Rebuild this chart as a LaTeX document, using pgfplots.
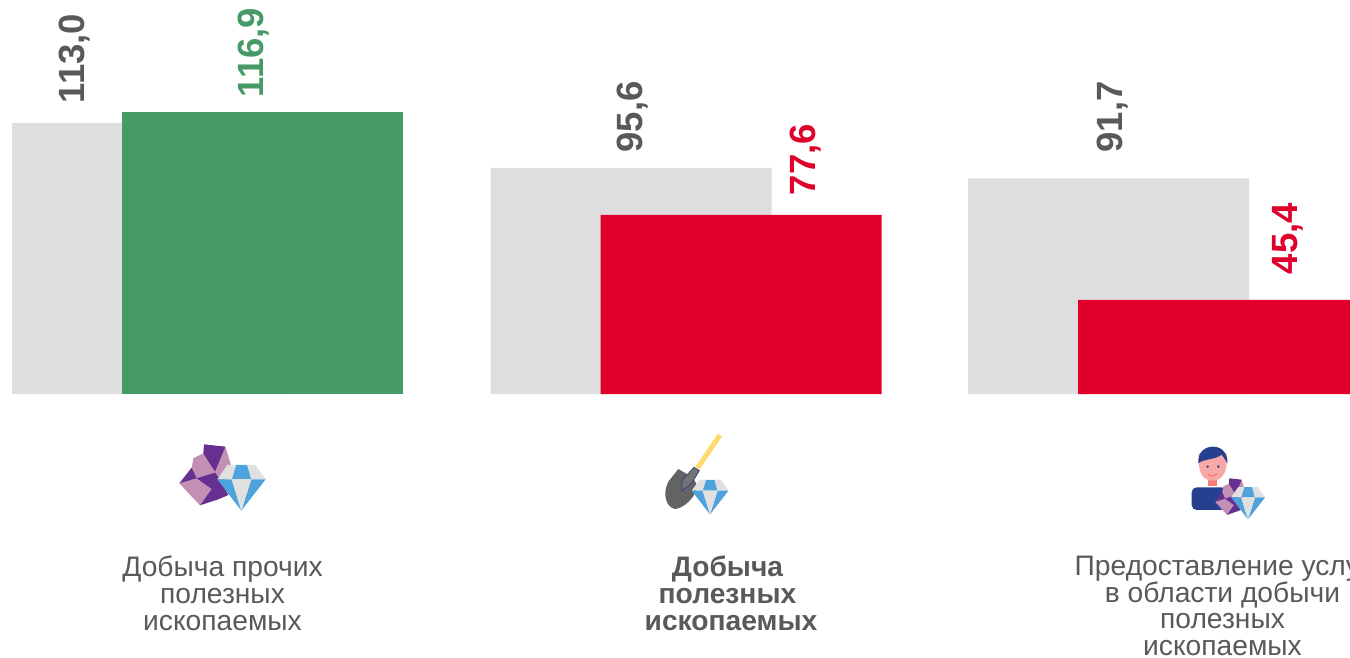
\documentclass[border=0pt]{standalone}
\usepackage{fontspec}
\setmainfont{Liberation Sans}
\usepackage{pgfplots}
\pgfplotsset{compat=1.18}
\definecolor{barg}{HTML}{DEDEDE}
\definecolor{good}{HTML}{459A66}
\definecolor{bad}{HTML}{E0002B}
\definecolor{txt}{HTML}{595959}
\definecolor{gemb}{HTML}{4FA3DC}
\definecolor{gemg}{HTML}{E0E0E0}
\definecolor{rockd}{HTML}{653090}
\definecolor{rockl}{HTML}{C48FB5}
\definecolor{navy}{HTML}{24408E}
\definecolor{skin}{HTML}{F9A8A8}
\definecolor{neck}{HTML}{F47C7C}
\definecolor{handle}{HTML}{FFDB6B}
\newcommand{\gem}{%
  \fill[gemb] (-16,-43)--(18,-43)--(30,0)--(-29,0)--cycle;
  \fill[gemg] (-42,-43)--(-16,-43)--(-29,0)--(-72,0)--cycle;
  \fill[gemg] (18,-43)--(42,-43)--(73,0)--(30,0)--cycle;
  \fill[gemb] (-72,0)--(-29,0)--(0,94)--cycle;
  \fill[gemb] (73,0)--(30,0)--(0,94)--cycle;
  \fill[gemg] (-29,0)--(30,0)--(0,94)--cycle;
}
\newcommand{\rock}{%
  \fill[rockl] (130,115)--(160,100)--(226,80)--(243,135)--(225,180)--(140,178)--(125,145)--cycle;
  \fill[rockl] (88,190)--(140,175)--(185,207)--(150,256)--cycle;
  \fill[rockd] (162,73)--(226,80)--(195,155)--(160,100)--cycle;
  \fill[rockd] (88,190)--(125,143)--(140,175)--cycle;
  \fill[rockd] (140,175)--(195,158)--(210,178)--(235,225)--(205,238)--(150,256)--(185,207)--cycle;
}
\pgfplotsset{lab/.style={only marks,mark=none,point meta=explicit symbolic,
  nodes near coords,
  every node near coord/.append style={rotate=90,anchor=center,inner sep=0pt,
    font=\fontsize{36.5}{36.5}\selectfont\bfseries,text=#1}}}
\begin{document}
\begin{tikzpicture}
\clip[use as bounding box] (0,0) rectangle (1350pt,657pt);
\begin{axis}[at={(0,0)},anchor=south west,scale only axis,width=1350pt,height=657pt,
  xmin=0,xmax=1350,ymin=-263,ymax=394,hide axis,clip=false,
  ybar,bar shift=0pt,bar width=281pt]
% bars (grey: previous period, coloured: current), heights
\addplot[fill=barg,draw=none] coordinates {(152.5,271) (631,226) (1108.5,215.5)};
\addplot[fill=good,draw=none] coordinates {(262.5,282)};
\addplot[fill=bad,draw=none] coordinates {(741,179) (1218.5,94)};
% value labels
\addplot[lab=txt] coordinates {(75,335.5)[113,0] (633,277)[95,6] (1113,277)[91,7]};
\addplot[lab=good] coordinates {(254,341.5)[116,9]};
\addplot[lab=bad] coordinates {(806,234.5)[77,6] (1288,155.5)[45,4]};
% category labels
\node[align=center,text=txt,font=\fontsize{28.2}{26.9}\selectfont,anchor=north] at (axis cs:222.5,-158.2) {Добыча прочих\\полезных\\ископаемых};
\node[align=center,text=txt,font=\fontsize{28.2}{26.9}\selectfont\bfseries,anchor=north] at (axis cs:731,-158.2) {Добыча\hspace*{7pt}\\полезных\hspace*{7pt}\hspace*{1pt}\\ископаемых};
\node[align=center,text=txt,font=\fontsize{28.2}{26.9}\selectfont,anchor=north] at (axis cs:1222.5,-158.2) {Предоставление услуг\\в области добычи\\полезных\\ископаемых};
\end{axis}
\begin{scope}[x=1pt,y=-1pt,yshift=657pt]
  % icon 1
  \begin{scope}[shift={(150,420)},x=0.3333pt,y=-0.3333pt]
    \rock
    \begin{scope}[shift={(274,178)}]\gem\end{scope}
  \end{scope}
  % icon 2
  \begin{scope}[shift={(640,420)},x=0.3333pt,y=-0.3333pt]
    \draw[line width=5pt,color=handle] (172,145)--(240,45);
    \fill[black!61] (115,147) .. controls (135,160) and (165,170) .. (172,200)
       .. controls (165,235) and (130,265) .. (105,267)
       .. controls (80,262) and (65,225) .. (85,185) --cycle;
    \draw[navy,line width=0.7pt,fill=black!55] (162,142)--(178,152)--(155,190)--(125,213)--(127,180)--cycle;
    \begin{scope}[shift={(210,212)},x=0.2533pt,y=-0.2533pt]\gem\end{scope}
  \end{scope}
  % icon 3
  \begin{scope}[shift={(1170,430)},x=0.3333pt,y=-0.3333pt]
    \fill[navy,rounded corners=5pt] (65,240)--(65,172)--(170,172)--(170,240)--cycle;
    \fill[neck] (113,148) rectangle (142,168);
    \fill[skin] (86,70) -- (86,95) .. controls (86,135) and (105,152) .. (128,152)
       .. controls (150,152) and (170,135) .. (170,95) -- (170,70) --cycle;
    \fill[navy] (85,100) .. controls (83,65) and (105,50) .. (130,50)
       .. controls (155,50) and (174,70) .. (172,100)
       .. controls (166,90) and (160,80) .. (155,74)
       .. controls (135,90) and (105,85) .. (85,100) --cycle;
    \fill[navy] (113,110) circle[radius=4];
    \fill[navy] (145,110) circle[radius=4];
    \draw[red!70,line width=0.6pt] (115,132) .. controls (122,140) and (132,140) .. (140,132);
    \begin{scope}[shift={(84,101)},x=0.1933pt,y=-0.2pt]\rock\end{scope}
    \begin{scope}[shift={(234,202)},x=0.2347pt,y=-0.2347pt]\gem\end{scope}
  \end{scope}
\end{scope}
\end{tikzpicture}
\end{document}
